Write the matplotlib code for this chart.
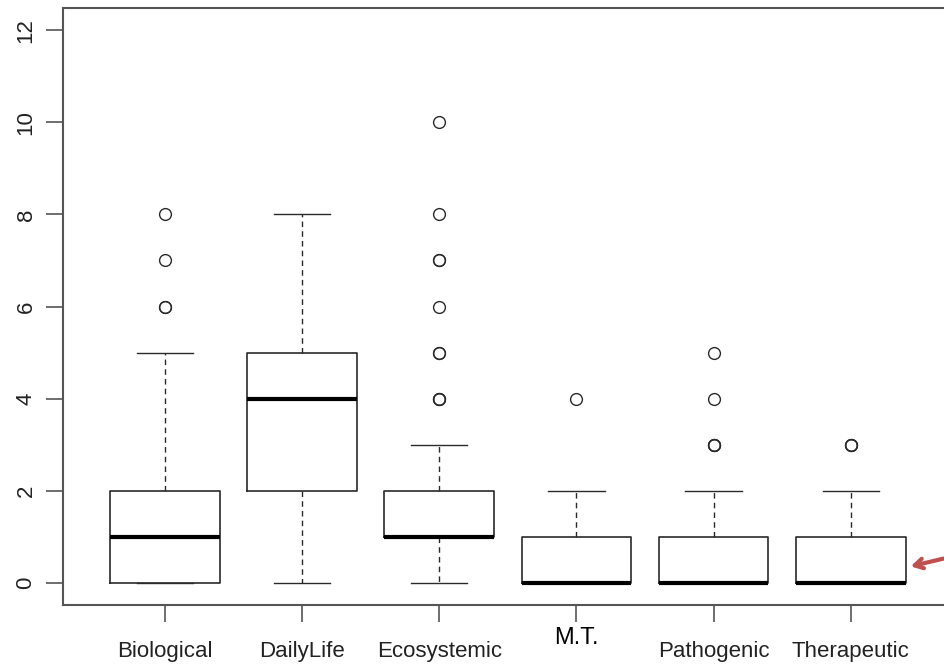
import matplotlib
matplotlib.use("Agg")
import matplotlib.pyplot as plt
from matplotlib.transforms import blended_transform_factory

categories = ["Biological", "DailyLife", "Ecosystemic", "M.T.", "Pathogenic", "Therapeutic"]
q1 = [0, 2, 1, 0, 0, 0]
med = [1, 4, 1, 0, 0, 0]
q3 = [2, 5, 2, 1, 1, 1]
whislo = [0, 0, 0, 0, 0, 0]
whishi = [5, 8, 3, 2, 2, 2]
outliers = [
    [6, 6, 7, 8],
    [],
    [4, 4, 4, 5, 5, 6, 7, 7, 8, 10],
    [4],
    [3, 3, 3, 4, 5],
    [3, 3, 3],
]
yticks = [0, 2, 4, 6, 8, 10, 12]

plt.rcParams['font.family'] = ['Liberation Sans', 'DejaVu Sans']

W, H = 944, 664
fig = plt.figure(figsize=(W / 100, H / 100), dpi=100)
ax = fig.add_axes([63 / W, (H - 605) / H, (944 - 63) / W, (605 - 8) / H])

stats = []
for i, c in enumerate(categories):
    stats.append(dict(label=c, q1=q1[i], med=med[i], q3=q3[i],
                      whislo=whislo[i], whishi=whishi[i], fliers=outliers[i]))

lc = '#2a2a2a'
ax.bxp(stats, positions=range(1, 7), widths=0.8, patch_artist=False,
       boxprops=dict(color=lc, linewidth=1.2),
       whiskerprops=dict(color=lc, linewidth=1.0, linestyle=(0, (4, 3))),
       capprops=dict(color=lc, linewidth=1.0),
       medianprops=dict(color='black', linewidth=3.0),
       flierprops=dict(marker='o', markersize=8.5, markerfacecolor='none',
                       markeredgecolor=lc, markeredgewidth=1.0),
       capwidths=0.41)

ax.set_xlim(0.257, 6.68)
ax.set_ylim(-0.48, 12.48)
for s in ['left', 'bottom', 'top']:
    ax.spines[s].set_color('#555555')
    ax.spines[s].set_linewidth(1.5)
ax.spines['right'].set_visible(False)

ax.set_yticks(yticks)
ax.set_yticklabels([str(v) for v in yticks], rotation=90, va='center', fontsize=16, color='#222222')
ax.set_xticks(range(1, 7))
labels = [c if c != "M.T." else "" for c in categories]
ax.set_xticklabels(labels, fontsize=16, color='#222222')
ax.tick_params(axis='both', length=12, width=1.2, color='#555555')
ax.tick_params(axis='x', pad=14)
ax.tick_params(axis='y', pad=7)

trans = blended_transform_factory(ax.transData, fig.transFigure)
ax.text(4, 1 - 638 / H, "M.T.", transform=trans, ha='center', va='center',
        fontsize=17, color='black')

ax.annotate("", xy=(908 / W, 1 - 567 / H), xycoords='figure fraction',
            xytext=(946 / W, 1 - 558 / H), textcoords='figure fraction',
            arrowprops=dict(arrowstyle='->,head_length=0.6,head_width=0.35',
                            color='#c0504d', lw=3))

fig.savefig("out.png", dpi=100)
